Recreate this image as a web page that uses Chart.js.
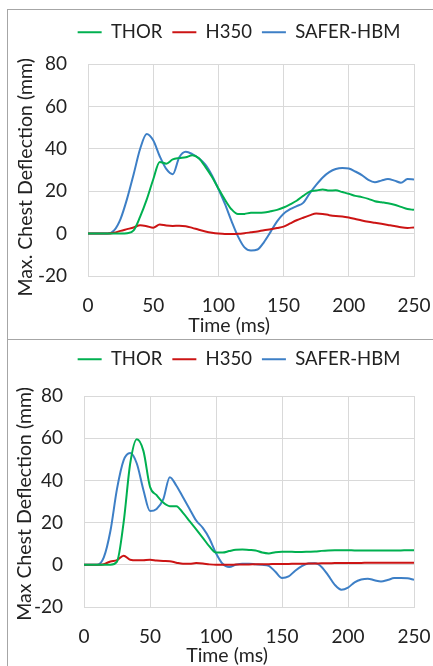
<!DOCTYPE html>
<html><head><meta charset="utf-8">
<script src="https://cdn.jsdelivr.net/npm/chart.js@4.4.1/dist/chart.umd.min.js"></script>
<style>
html,body{margin:0;padding:0;background:#fff;width:433px;height:666px;overflow:hidden;}
.panel{position:absolute;left:7px;width:470px;border:1px solid #a6a6a6;box-sizing:border-box;background:#fff;}
#p1{top:9px;height:331px;}
#p2{top:339px;height:340px;}
canvas{position:absolute;left:0;top:0;}
</style></head><body>
<div class="panel" id="p1"><canvas id="c1" width="462" height="329"></canvas></div>
<div class="panel" id="p2"><canvas id="c2" width="462" height="329"></canvas></div>
<script>
// ---- data ----
const TIME = [0,5,10,15,20,25,30,35,40,45,50,55,60,65,70,75,80,85,90,95,100,105,110,115,120,125,130,135,140,145,150,155,160,165,170,175,180,185,190,195,200,205,210,215,220,225,230,235,240,245,250];
const SERIES_NAMES = ['THOR','H350','SAFER-HBM'];
const X_TICKS = [0,50,100,150,200,250];
const Y_TICKS = [-20,0,20,40,60,80];

// top chart
const THOR_TOP = [0,0,0,0,0,0,0.2,1.5,8,16,25.5,33.8,33,35,35.6,36,37,35.5,31.5,26.8,21.3,16,11.5,9.2,9.3,9.8,9.8,9.9,10.5,11.2,12.3,13.8,15.5,17.8,19.8,20.3,20.8,20.3,20.4,19.6,18.8,17.8,17.2,16.4,15.3,14.8,14.3,13.6,12.6,11.6,11.2];
const H350_TOP = [0,0,0,0,0.4,1.3,2.1,2.9,3.9,3.5,2.8,4.3,3.8,3.6,3.7,3.5,2.7,1.8,1,0.4,0,-0.2,-0.2,-0.1,0.2,0.6,1,1.6,2,2.6,3.3,4.8,6.3,7.5,8.6,9.5,9.3,8.7,8.3,8.1,7.6,6.9,6.2,5.6,5.1,4.6,4.1,3.6,3,2.7,2.9];
const SAFER_TOP = [0,0,0,0,1.5,7,16.5,28,40,47,44,36.5,30.5,28,36,38.6,37.5,35.5,32.5,27.5,21,14,6,-1.3,-6.5,-8,-7.5,-4,0.8,5.8,9.4,11.5,13,14.5,19,23,26.5,29,30.5,31,30.7,29.3,27.6,25.3,24.2,25,25.7,25,24,25.7,25.5];

// bottom chart
const THOR_BOT = [0,0,0,0,0,1.5,20,48,59.5,54,37,33,29.5,27.8,27.8,24.6,20.7,16.8,12.8,8.7,5.8,5.8,6.5,7.1,7.2,7,6.8,5.8,5.4,6,6.2,6.2,6.1,6.1,6.2,6.3,6.6,6.8,6.9,6.9,6.9,6.8,6.8,6.8,6.8,6.8,6.8,6.8,6.8,6.9,6.9];
const H350_BOT = [0,0,0,0.3,1.6,2.2,4.3,2.4,2.1,2.2,2.4,2,1.8,1.7,1,0.5,0.5,0.8,0.6,0.2,0,0,0,0.1,0.2,0.2,0.3,0.3,0.3,0.4,0.4,0.4,0.5,0.5,0.6,0.6,0.7,0.7,0.8,0.8,0.9,0.9,0.9,1,1,1,1,1,1,1,1];
const SAFER_BOT = [0,0,0,3.5,16,36,49.5,53,48,35.5,25.5,26.5,31,41.5,37.5,32,26.5,21,17.5,12.5,5.5,0.5,-1,0,0.5,0.5,0.2,0,-0.5,-3.3,-6.2,-5.5,-2.8,-0.6,0.6,0.7,-1,-5,-9.5,-11.8,-10.8,-8.3,-7,-6.6,-7.3,-7.9,-7.2,-6.3,-6.2,-6.4,-7.1];

// ---- styles ----
const COLORS = ['#00b050','#cc1414','#3d7fc6'];
const FONT = 'Lato';
const TXT = '#222222';
Chart.defaults.font.family = FONT;
Chart.defaults.color = TXT;

function makeChart(canvasId, seriesVals, yTitle, xTitle, d) {
  const datasets = seriesVals.map((vals, i) => ({
    label: SERIES_NAMES[i],
    data: TIME.map((t, k) => ({x: t, y: vals[k]})),
    borderColor: COLORS[i],
    backgroundColor: COLORS[i],
    borderWidth: 2,
    pointRadius: 0,
    fill: false,
    cubicInterpolationMode: 'monotone'
  }));
  const legendFix = {
    id: 'legendFix',
    beforeLayout(chart) {
      const lg = chart.legend;
      if (lg && !lg._patched) {
        const orig = lg.fit.bind(lg);
        lg.fit = function() { orig(); this.height = d.legendH; };
        lg._patched = true;
      }
    }
  };
  return new Chart(document.getElementById(canvasId), {
    type: 'line',
    data: { datasets },
    options: {
      responsive: false,
      animation: false,
      devicePixelRatio: 1,
      layout: { padding: 0 },
      plugins: {
        tooltip: { enabled: false },
        legend: {
          display: true,
          position: 'top',
          title: { display: d.legendTitleH > 0, text: '', font: { size: 1, lineHeight: 1 }, padding: { top: Math.max(d.legendTitleH - 1, 0), bottom: 0 } },
          labels: {
            usePointStyle: true,
            pointStyle: 'line',
            pointStyleWidth: 24,
            padding: 10,
            color: TXT,
            font: { family: FONT, size: 18.5 }
          }
        }
      },
      scales: {
        x: {
          type: 'linear',
          min: 0, max: 250,
          afterBuildTicks(s) { s.ticks = X_TICKS.map(v => ({value: v})); },
          afterFit(s) { s.height = d.xH; },
          ticks: { padding: 18.5, color: TXT, font: { family: FONT, size: 19 }, maxRotation: 0 },
          grid: { color: '#d9d9d9', lineWidth: 1, drawTicks: false },
          border: { color: '#d9d9d9' },
          title: { display: true, text: xTitle, color: TXT, font: { family: FONT, size: 19.5 }, padding: { top: 0, bottom: 2 } }
        },
        y: {
          type: 'linear',
          min: -20, max: 80,
          afterBuildTicks(s) { s.ticks = Y_TICKS.map(v => ({value: v})); },
          afterFit(s) { s.width = d.yW; },
          ticks: { padding: 21, color: TXT, font: { family: FONT, size: 19 } },
          grid: { color: '#d9d9d9', lineWidth: 1, drawTicks: false },
          border: { color: '#d9d9d9' },
          title: { display: true, text: yTitle, color: TXT, font: { family: FONT, size: 19.5 }, padding: { top: d.yTitlePad, bottom: 0 } }
        },
        spacer: {
          type: 'linear',
          position: 'right',
          display: true,
          afterFit(s) { s.width = 56; },
          ticks: { display: false },
          grid: { display: false },
          border: { display: false },
          title: { display: false }
        }
      }
    },
    plugins: [legendFix]
  });
}

// trailing spaces keep the centred axis titles where the reference places them
makeChart('c1', [THOR_TOP, H350_TOP, SAFER_TOP], 'Max. Chest Deflection (mm)\u2003', 'Time (ms)\u2003\u2003\u2003',
  { legendH: 54, xH: 63, yW: 80, legendTitleH: 3, yTitlePad: 6 });
makeChart('c2', [THOR_BOT, H350_BOT, SAFER_BOT], 'Max Chest Deflection (mm)\u2009\u2009', 'Time (ms)\u2003\u2003\u2003',
  { legendH: 56, xH: 62, yW: 76, legendTitleH: 0, yTitlePad: 5 });
</script>
</body></html>
